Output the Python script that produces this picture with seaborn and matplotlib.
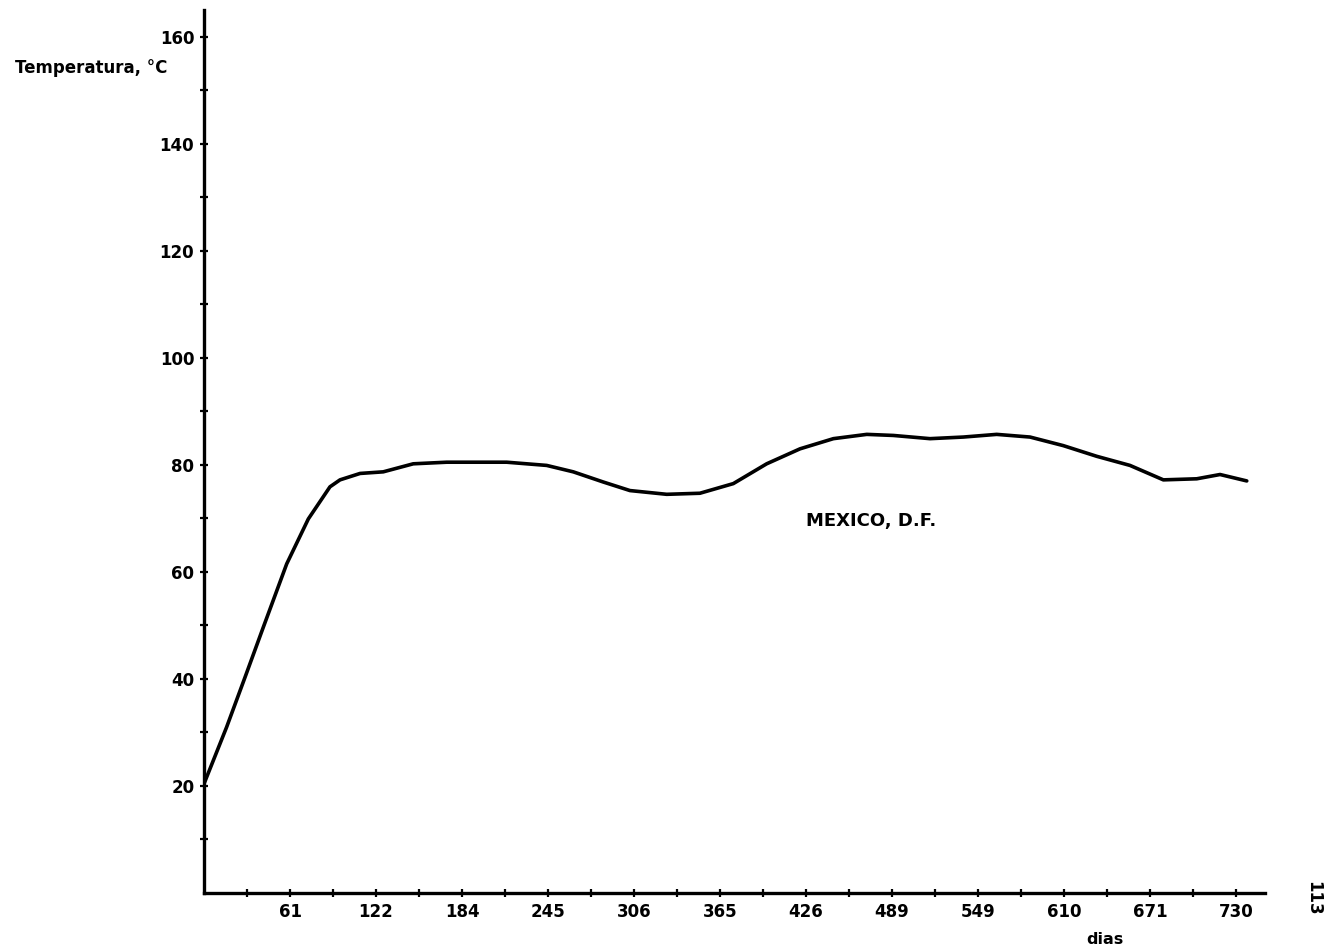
import matplotlib
matplotlib.use("Agg")
import matplotlib.pyplot as plt
import numpy as np
import pandas as pd
import seaborn as sns

# Temperature curve (days, °C)
dias = [0, 16, 29, 42, 58.5, 73.8, 89.1, 96.2, 110.4, 126.8, 148, 171.7, 195.2,
        214.1, 242.4, 261.2, 282.4, 301.3, 327.3, 350.8, 374.4, 398, 421.6,
        445.2, 468.8, 487.6, 513.5, 537.1, 560.7, 584.3, 607.8, 631.5, 655,
        678.6, 702.2, 718.7, 737.6]
temperatura = [20.4, 31.0, 40.3, 49.7, 61.5, 69.9, 75.9, 77.2, 78.4, 78.7, 80.2,
               80.5, 80.5, 80.5, 79.9, 78.7, 76.8, 75.2, 74.5, 74.7, 76.5, 80.2,
               83.0, 84.9, 85.7, 85.5, 84.9, 85.2, 85.7, 85.2, 83.6, 81.6, 79.9,
               77.2, 77.4, 78.2, 77.0]

x_labels = ["61", "122", "184", "245", "306", "365", "426", "489",
            "549", "610", "671", "730"]
y_major = [20, 40, 60, 80, 100, 120, 140, 160]
y_minor = [10, 30, 50, 70, 90, 110, 130, 150]

sns.set_theme(style="white")
plt.rcParams["font.family"] = ["DejaVu Sans"]
plt.rcParams["font.weight"] = "bold"
plt.rcParams["text.color"] = "black"

fig = plt.figure(figsize=(13.27, 9.51), dpi=100)
ax = fig.add_axes([204 / 1327, 58 / 951, (1265 - 204) / 1327, (893 - 10) / 951])

df = pd.DataFrame({"dias": dias, "temperatura": temperatura})
sns.lineplot(data=df, x="dias", y="temperatura", ax=ax, color="black",
             linewidth=2.6, estimator=None, sort=False,
             solid_joinstyle="round", solid_capstyle="round")

ax.set_xlim(0, 750.5)
ax.set_ylim(0, 165)

# monthly ticks along the time axis, labelled every second month
month = 730 / 24
ax.set_xticks([month * k for k in range(2, 25, 2)])
ax.set_xticklabels(x_labels)
ax.set_xticks([month * k for k in range(1, 25, 2)], minor=True)
ax.set_yticks(y_major)
ax.set_yticks(y_minor, minor=True)

for s in ["top", "right"]:
    ax.spines[s].set_visible(False)
for s in ["left", "bottom"]:
    ax.spines[s].set_linewidth(2.4)
    ax.spines[s].set_color("black")

ax.tick_params(axis="both", which="both", direction="inout", length=6,
               width=1.6, color="black", labelsize=12, labelcolor="black")
ax.tick_params(axis="x", which="both", pad=4, bottom=True)
ax.tick_params(axis="y", which="both", pad=4, left=True)
for lab in ax.get_xticklabels() + ax.get_yticklabels():
    lab.set_fontweight("bold")

ax.set_xlabel("")
ax.set_ylabel("")
ax.grid(False)

fig.text(15 / 1327, 1 - 68 / 951, "Temperatura, °C", ha="left", va="center",
         fontsize=12, fontweight="bold", color="black")
fig.text(1105 / 1327, 1 - 940 / 951, "dias", ha="center", va="center",
         fontsize=11.5, fontweight="bold", color="black")
fig.text(1313 / 1327, 1 - 898 / 951, "113", ha="center", va="center",
         fontsize=12, fontweight="bold", rotation=-90, color="black")

ax.text(425.5, 69.6, "MEXICO, D.F.", ha="left", va="center", fontsize=13,
        fontweight="bold", color="black")

fig.savefig("out.png", dpi=100, facecolor="white")
